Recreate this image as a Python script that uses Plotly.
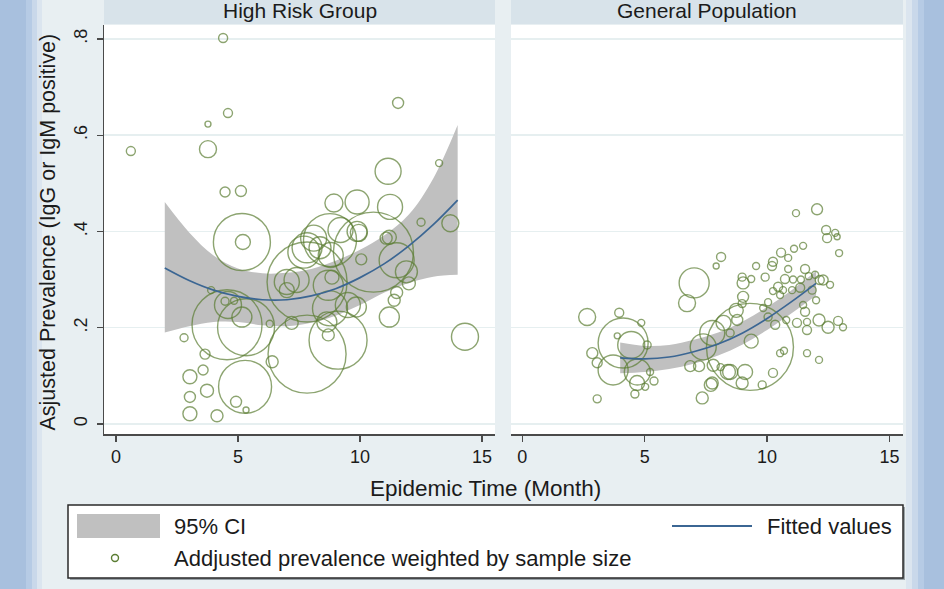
import plotly.graph_objects as go

# ---------------- data ----------------
# High Risk Group: epidemic time (month), adjusted prevalence, sample size
hr_x = [4.39, 4.59, 3.77, 0.61, 3.77, 4.47, 5.12, 5.16, 5.20, 4.59, 4.47, 4.84, 3.90, 4.55, 5.33,
        5.16, 7.00, 7.20, 6.30, 6.40, 2.79, 3.65, 3.03, 3.57, 3.73, 3.03, 3.03, 4.14, 5.29, 4.92,
        5.33, 7.83, 7.83, 8.93, 9.88, 11.15, 13.24, 11.56, 11.23, 7.70, 8.77, 10.55, 11.50, 11.90,
        12.00, 11.50, 11.40, 11.20, 11.20, 10.05, 9.10, 8.85, 8.77, 8.64, 8.70, 9.50, 9.20, 8.36,
        9.88, 7.83, 12.50, 13.70, 14.30, 7.40, 8.10, 9.95, 8.80, 11.07, 8.70, 9.85, 7.00]
hr_y = [0.802, 0.646, 0.623, 0.567, 0.571, 0.482, 0.484, 0.378, 0.378, 0.247, 0.255, 0.256, 0.278,
        0.206, 0.201, 0.222, 0.278, 0.210, 0.208, 0.129, 0.179, 0.145, 0.098, 0.112, 0.069, 0.056,
        0.021, 0.017, 0.077, 0.046, 0.029, 0.295, 0.145, 0.459, 0.461, 0.525, 0.542, 0.667, 0.451,
        0.357, 0.382, 0.357, 0.340, 0.316, 0.292, 0.273, 0.257, 0.222, 0.388, 0.342, 0.174, 0.305,
        0.240, 0.212, 0.185, 0.247, 0.403, 0.366, 0.400, 0.366, 0.419, 0.417, 0.181, 0.299, 0.386,
        0.397, 0.351, 0.386, 0.288, 0.243, 0.295]
hr_n = [81, 81, 36, 81, 289, 100, 121, 3249, 225, 729, 64, 49, 49, 4900, 3249,
        400, 225, 169, 49, 144, 64, 100, 196, 100, 169, 121, 196, 144, 2809, 121,
        36, 6400, 6084, 324, 576, 676, 49, 121, 625, 1024, 2809, 6400, 1225, 484,
        169, 144, 144, 400, 196, 121, 3364, 196, 1225, 400, 144, 625, 625, 484,
        400, 900, 64, 289, 729, 625, 676, 289, 625, 144, 900, 400, 625]

# General Population
gp_x = [8.12, 7.92, 7.02, 6.73, 2.65, 3.96, 4.86, 4.12, 4.45, 3.88, 5.10, 2.86, 3.06, 3.71, 4.70,
        4.69, 5.22, 5.38, 5.02, 4.60, 3.06, 6.86, 7.22, 7.39, 7.76, 7.76, 7.35, 8.40, 9.30, 12.04,
        11.18, 12.41, 12.78, 12.45, 12.86, 12.94, 11.47, 11.10, 10.57, 10.86, 10.24, 10.20, 9.55,
        9.92, 11.55, 11.96, 12.29, 12.57, 12.15, 8.98, 9.02, 9.35, 10.73, 10.45, 10.24, 10.65,
        11.02, 11.35, 11.84, 9.02, 10.04, 12.00, 11.47, 11.55, 9.84, 8.74, 8.98, 8.78, 8.22, 8.49,
        10.04, 10.33, 10.78, 11.22, 11.63, 11.63, 12.12, 12.49, 12.90, 13.10, 9.35, 10.53, 10.69,
        11.63, 12.12, 8.49, 9.10, 8.98, 10.24, 9.80, 7.70, 7.80, 8.10, 10.86, 11.70, 11.38, 11.06,
        10.53]
gp_y = [0.347, 0.328, 0.293, 0.251, 0.222, 0.231, 0.210, 0.168, 0.164, 0.183, 0.164, 0.147, 0.127,
        0.112, 0.108, 0.085, 0.108, 0.089, 0.077, 0.062, 0.052, 0.120, 0.120, 0.160, 0.189, 0.085,
        0.054, 0.108, 0.160, 0.446, 0.438, 0.403, 0.397, 0.386, 0.389, 0.355, 0.370, 0.364, 0.356,
        0.345, 0.337, 0.328, 0.328, 0.305, 0.322, 0.310, 0.299, 0.289, 0.299, 0.305, 0.293, 0.301,
        0.301, 0.285, 0.276, 0.278, 0.278, 0.283, 0.278, 0.264, 0.253, 0.257, 0.247, 0.233, 0.241,
        0.236, 0.250, 0.216, 0.210, 0.189, 0.222, 0.206, 0.216, 0.210, 0.212, 0.195, 0.216, 0.201,
        0.214, 0.201, 0.172, 0.147, 0.152, 0.147, 0.133, 0.108, 0.108, 0.085, 0.106, 0.081, 0.081,
        0.122, 0.118, 0.322, 0.307, 0.300, 0.300, 0.268]
gp_n = [81, 36, 900, 289, 289, 81, 49, 2500, 729, 36, 64, 121, 100, 900, 676,
        225, 49, 64, 49, 64, 64, 121, 121, 676, 625, 144, 144, 225, 7569, 121,
        49, 81, 49, 81, 36, 49, 49, 49, 81, 49, 81, 81, 49,
        64, 81, 49, 100, 49, 81, 64, 144, 49, 81, 81, 49, 49,
        49, 81, 64, 121, 49, 49, 49, 81, 49, 196, 64, 121, 225, 64,
        64, 81, 49, 81, 49, 81, 144, 144, 81, 49, 196, 49, 49,
        49, 49, 225, 225, 144, 81, 64, 169, 144, 49, 49, 49, 49, 49,
        49]

# Quadratic fit with 95% CI
hr_fit_x = [2, 3, 4, 5, 6, 7, 8, 9, 10, 11, 12, 13, 14]
hr_fit = [0.324, 0.298, 0.278, 0.265, 0.258, 0.258, 0.266, 0.281, 0.304, 0.333, 0.370, 0.414, 0.465]
hr_hi = [0.461, 0.398, 0.350, 0.323, 0.313, 0.314, 0.322, 0.339, 0.362, 0.392, 0.435, 0.510, 0.621]
hr_lo = [0.190, 0.203, 0.212, 0.212, 0.205, 0.203, 0.210, 0.225, 0.247, 0.273, 0.293, 0.306, 0.310]

gp_fit_x = [4, 5, 6, 7, 8, 9, 10, 11, 12]
gp_fit = [0.137, 0.135, 0.139, 0.150, 0.166, 0.189, 0.219, 0.254, 0.292]
gp_hi = [0.169, 0.162, 0.164, 0.175, 0.190, 0.213, 0.243, 0.278, 0.317]
gp_lo = [0.105, 0.108, 0.114, 0.125, 0.142, 0.165, 0.195, 0.230, 0.267]

panel_titles = ["High Risk Group", "General Population"]
x_ticks = [0, 5, 10, 15]
y_ticks = [0, 0.2, 0.4, 0.6, 0.8]
y_ticktext = ["0", ".2", ".4", ".6", ".8"]

# ---------------- styling ----------------
W, H = 944, 589
FONT = "Liberation Sans, Arial, sans-serif"
GREEN = "#5b7d33"
BLUE = "#3b6693"
CI_GRAY = "#c0c0c0"
BG = "#e8eff2"
STRIP = "#d8e3ea"
TXT = "#1b1b1b"
AXC = "#4a4a4a"


def fx(p):
    return p / W


def fy(p):
    return 1 - p / H


fig = go.Figure()


def add_panel(xs, fit, hi, lo, px_, py_, pn, xa, ya):
    fig.add_trace(go.Scatter(x=xs, y=lo, mode="lines", line=dict(width=0, shape="spline", color=CI_GRAY),
                             hoverinfo="skip", showlegend=False, xaxis=xa, yaxis=ya))
    fig.add_trace(go.Scatter(x=xs, y=hi, mode="lines", line=dict(width=0, shape="spline", color=CI_GRAY),
                             fill="tonexty", fillcolor=CI_GRAY, hoverinfo="skip", showlegend=False,
                             xaxis=xa, yaxis=ya))
    fig.add_trace(go.Scatter(x=px_, y=py_, mode="markers",
                             marker=dict(symbol="circle-open", color=GREEN,
                                         size=[n ** 0.5 for n in pn], sizemode="diameter",
                                         line=dict(width=1.4, color=GREEN)),
                             showlegend=False, xaxis=xa, yaxis=ya))
    fig.add_trace(go.Scatter(x=xs, y=fit, mode="lines", line=dict(width=1.7, shape="spline", color=BLUE),
                             showlegend=False, xaxis=xa, yaxis=ya))


add_panel(hr_fit_x, hr_fit, hr_hi, hr_lo, hr_x, hr_y, hr_n, "x", "y")
add_panel(gp_fit_x, gp_fit, gp_hi, gp_lo, gp_x, gp_y, gp_n, "x2", "y2")

L1, R1, L2, R2 = 104, 495, 511, 903
TOP, BOT = 25, 434

xax = dict(range=[-0.49, 15.53], tickvals=x_ticks, showgrid=False, zeroline=False,
           showline=True, linecolor=AXC, linewidth=1.5, ticks="outside", ticklen=6,
           tickwidth=1.3, tickcolor=AXC, tickfont=dict(family=FONT, size=18, color=TXT),
           fixedrange=True)
fig.update_layout(
    xaxis=dict(xax, domain=[fx(L1), fx(R1)], anchor="y"),
    xaxis2=dict(xax, domain=[fx(L2), fx(R2)], anchor="y2", range=[-0.46, 15.55]),
    yaxis=dict(domain=[fy(BOT), fy(TOP)], range=[-0.021, 0.829], tickvals=y_ticks,
               ticktext=y_ticktext, tickangle=-90, showgrid=True, gridcolor="#e6eff0",
               gridwidth=1.5, zeroline=False, showline=True, linecolor=AXC, linewidth=1.5,
               ticks="outside", ticklen=6, tickwidth=1.3, tickcolor=AXC, ticklabelstandoff=2,
               tickfont=dict(family=FONT, size=18, color=TXT), anchor="x"),
    yaxis2=dict(domain=[fy(BOT), fy(TOP)], range=[-0.021, 0.829], tickvals=y_ticks,
                showticklabels=False, showgrid=True, gridcolor="#e6eff0", gridwidth=1.5,
                zeroline=False, showline=False, ticks="", anchor="x2"),
    width=W, height=H, margin=dict(l=0, r=0, t=0, b=0),
    paper_bgcolor=BG, plot_bgcolor="white", showlegend=False,
    font=dict(family=FONT, color=TXT),
)

shapes = []
# bluish slide edges
edge_cols_left = [(0, 26, "#a8c0de"), (26, 32, "#b6cbe5"), (32, 37, "#c9d8ea"), (37, 42, "#dbe5ef")]
for a, b, c in edge_cols_left:
    shapes.append(dict(type="rect", xref="paper", yref="paper", x0=fx(a), x1=fx(b), y0=0, y1=1,
                       fillcolor=c, line=dict(width=0), layer="below"))
edge_cols_right = [(906, 912, "#dbe5ef"), (912, 918, "#c9d8ea"), (918, 924, "#b6cbe5"), (924, 944, "#a8c0de")]
for a, b, c in edge_cols_right:
    shapes.append(dict(type="rect", xref="paper", yref="paper", x0=fx(a), x1=fx(b), y0=0, y1=1,
                       fillcolor=c, line=dict(width=0), layer="below"))
# strips
for a, b in [(L1, R1), (L2, R2)]:
    shapes.append(dict(type="rect", xref="paper", yref="paper", x0=fx(a), x1=fx(b), y0=fy(24), y1=1,
                       fillcolor=STRIP, line=dict(width=0), layer="below"))
# legend box
shapes.append(dict(type="rect", xref="paper", yref="paper", x0=fx(70), x1=fx(905), y0=fy(580), y1=fy(507),
                   fillcolor="#9aa3a8", line=dict(width=0), layer="above"))
shapes.append(dict(type="rect", xref="paper", yref="paper", x0=fx(68), x1=fx(903), y0=fy(578), y1=fy(505),
                   fillcolor="white", line=dict(width=1.5, color="#2a2a2a"), layer="above"))
shapes.append(dict(type="rect", xref="paper", yref="paper", x0=fx(77), x1=fx(160), y0=fy(538), y1=fy(514),
                   fillcolor=CI_GRAY, line=dict(width=0), layer="above"))
shapes.append(dict(type="line", xref="paper", yref="paper", x0=fx(672), x1=fx(752), y0=fy(526), y1=fy(526),
                   line=dict(width=1.8, color=BLUE), layer="above"))
shapes.append(dict(type="circle", xref="paper", yref="paper", x0=fx(111.5), x1=fx(118.5), y0=fy(561.5),
                   y1=fy(554.5), line=dict(width=1.4, color=GREEN), fillcolor="rgba(0,0,0,0)", layer="above"))
fig.update_layout(shapes=shapes)

ann = []
for t, a, b in [(panel_titles[0], L1, R1), (panel_titles[1], L2, R2)]:
    ann.append(dict(text=t, xref="paper", yref="paper", x=fx((a + b) / 2), y=fy(11), showarrow=False,
                    xanchor="center", yanchor="middle", font=dict(family=FONT, size=21, color=TXT)))
ann.append(dict(text="Asjusted Prevalence (IgG or IgM positive)", xref="paper", yref="paper",
                x=fx(47), y=fy((TOP + BOT) / 2 + 3), textangle=-90, showarrow=False,
                xanchor="center", yanchor="middle", font=dict(family=FONT, size=21.5, color=TXT)))
ann.append(dict(text="Epidemic Time (Month)", xref="paper", yref="paper", x=fx(486), y=fy(488),
                showarrow=False, xanchor="center", yanchor="middle",
                font=dict(family=FONT, size=22.5, color=TXT)))
ann.append(dict(text="95% CI", xref="paper", yref="paper", x=fx(172), y=fy(526), showarrow=False,
                xanchor="left", yanchor="middle", font=dict(family=FONT, size=22, color=TXT)))
ann.append(dict(text="Fitted values", xref="paper", yref="paper", x=fx(894), y=fy(526), showarrow=False,
                xanchor="right", yanchor="middle", font=dict(family=FONT, size=22, color=TXT)))
ann.append(dict(text="Addjusted prevalence weighted by sample size", xref="paper", yref="paper",
                x=fx(172), y=fy(558), showarrow=False, xanchor="left", yanchor="middle",
                font=dict(family=FONT, size=22, color=TXT)))
fig.update_layout(annotations=ann)

fig.write_html("out.html", config={"displayModeBar": False, "staticPlot": True},
               post_script="document.body.style.margin='0';document.body.style.overflow='hidden';")
